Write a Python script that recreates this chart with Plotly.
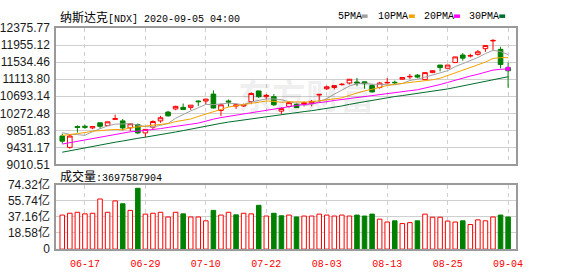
import plotly.graph_objects as go
import pandas as pd

# ---------------- data ----------------
dates = ["06-12", "06-15", "06-16", "06-17", "06-18", "06-19", "06-22", "06-23", "06-24", "06-25",
         "06-26", "06-29", "06-30", "07-01", "07-02", "07-06", "07-07", "07-08", "07-09", "07-10",
         "07-13", "07-14", "07-15", "07-16", "07-17", "07-20", "07-21", "07-22", "07-23", "07-24",
         "07-27", "07-28", "07-29", "07-30", "07-31", "08-03", "08-04", "08-05", "08-06", "08-07",
         "08-10", "08-11", "08-12", "08-13", "08-14", "08-17", "08-18", "08-19", "08-20", "08-21",
         "08-24", "08-25", "08-26", "08-27", "08-28", "08-31", "09-01", "09-02", "09-03", "09-04"]

opens = [9711.5, 9431.1, 9945.2, 9952.2, 9912.5, 10038.7, 9968.6, 10122.8, 10085.5, 9912.5,
         9992.0, 9788.7, 9928.9, 10085.5, 10302.8, 10379.9, 10419.6, 10419.6, 10576.2, 10576.2,
         10746.8, 10342.6, 10576.2, 10450.0, 10454.7, 10559.9, 10824.0, 10683.7, 10683.7, 10326.2,
         10443.0, 10489.8, 10489.8, 10520.1, 10723.5, 10880.0, 10910.4, 10980.5, 11020.3, 11043.6,
         11050.6, 10957.2, 10910.4, 11022.6, 11039.0, 11113.7, 11172.2, 11214.2, 11104.4, 11277.3,
         11464.3, 11384.8, 11525.1, 11712.0, 11686.3, 11728.4, 11868.6, 12060.2, 11852.2, 11401.2]

highs = [9772.3, 9741.9, 9975.6, 9992.0, 9947.0, 10040.0, 10064.0, 10239.7, 10132.2, 10017.0,
         10022.4, 9877.0, 10099.5, 10209.3, 10333.2, 10459.4, 10513.1, 10475.0, 10590.3, 10637.0,
         10840.3, 10513.1, 10613.6, 10513.1, 10513.1, 10793.6, 10826.0, 10746.8, 10746.8, 10419.6,
         10566.9, 10536.5, 10566.9, 10599.6, 10742.0, 10957.2, 10959.0, 11020.3, 11116.0, 11144.1,
         11053.0, 11003.9, 11050.6, 11144.1, 11081.0, 11158.0, 11244.6, 11244.6, 11280.0, 11338.1,
         11467.0, 11467.0, 11668.0, 11758.8, 11744.7, 11838.2, 11948.0, 12102.3, 11915.3, 11525.1]

lows = [9524.6, 9398.4, 9795.7, 9889.2, 9882.1, 9889.2, 9966.0, 10121.0, 9851.8, 9835.4,
        9758.3, 9678.8, 9882.1, 10038.7, 10193.0, 10349.5, 10364.0, 10356.5, 10450.0, 10496.8,
        10389.3, 10202.3, 10436.0, 10379.9, 10431.3, 10496.8, 10653.3, 10606.6, 10450.0, 10249.0,
        10412.6, 10410.0, 10443.0, 10443.0, 10566.9, 10847.3, 10863.7, 10957.2, 10987.5, 10940.8,
        10880.0, 10786.6, 10880.0, 11003.9, 10987.5, 11111.0, 11120.7, 11137.1, 11101.0, 11268.0,
        11307.7, 11382.0, 11522.0, 11571.8, 11651.2, 11698.0, 11791.5, 11838.2, 11384.8, 10903.4]

closes = [9585.3, 9711.5, 9921.9, 9928.9, 9945.2, 9952.2, 10062.1, 10139.2, 9912.5, 10015.3,
          9788.7, 9875.1, 10069.1, 10162.6, 10209.3, 10443.0, 10365.9, 10473.4, 10559.9, 10623.0,
          10403.3, 10482.7, 10552.9, 10482.7, 10489.8, 10763.2, 10683.7, 10716.4, 10482.7, 10389.3,
          10536.5, 10412.6, 10536.5, 10566.9, 10739.8, 10926.8, 10957.2, 10987.5, 11113.7, 11020.3,
          11003.9, 10800.6, 11020.3, 11034.3, 11027.3, 11155.8, 11183.8, 11167.5, 11277.3, 11324.1,
          11401.2, 11464.3, 11665.3, 11634.9, 11698.0, 11791.5, 11945.7, 12071.9, 11478.3, 11324.1]

# shares traded
volumes = [3.92e9, 4.13e9, 4.24e9, 4.06e9, 4.13e9, 5.77e9, 4.24e9, 5.55e9, 5.22e9, 4.46e9,
           7.00e9, 4.03e9, 4.13e9, 4.24e9, 3.70e9, 4.24e9, 4.06e9, 3.70e9, 3.70e9, 3.26e9,
           4.46e9, 3.92e9, 4.24e9, 3.95e9, 4.13e9, 4.06e9, 5.04e9, 3.81e9, 4.13e9, 3.84e9,
           3.92e9, 3.70e9, 3.81e9, 3.81e9, 4.03e9, 3.92e9, 3.81e9, 3.92e9, 3.81e9, 3.92e9,
           3.81e9, 4.03e9, 3.45e9, 3.12e9, 3.26e9, 2.94e9, 3.05e9, 3.26e9, 4.03e9, 3.67e9,
           3.67e9, 3.23e9, 3.12e9, 3.26e9, 2.83e9, 3.37e9, 3.26e9, 3.70e9, 3.92e9, 3697587904]

# closes before the visible window (estimated so the MA lines start where the reference shows them)
pre_window_closes = [8605, 8710, 8810, 8854, 8979, 9121, 9192, 9002, 8863, 8943,
                     9014, 9235, 9185, 9375, 9284, 9325, 9340, 9412, 9368, 9490,
                     9552, 9608, 9683, 9616, 9814, 9924, 9953, 10020, 9493]

ma_periods = [5, 10, 20, 30]
ma_names = ["5PMA", "10PMA", "20PMA", "30PMA"]
x_tick_labels = ["06-17", "06-29", "07-10", "07-22", "08-03", "08-13", "08-25", "09-04"]
price_tick_labels = ["9010.51", "9431.17", "9851.83", "10272.48", "10693.14",
                     "11113.80", "11534.46", "11955.12", "12375.77"]
vol_tick_labels = ["0", "18.58亿", "37.16亿", "55.74亿", "74.32亿"]
title_name = "纳斯达克"
title_rest = "[NDX] 2020-09-05 04:00"

# ---------------- styles ----------------
W, H = 578, 276
RED = "#ff0000"
GREEN = "#008000"
MA_COLORS = ["#a0a0a0", "#f5a300", "#ff00ff", "#006d2c"]
FRAME = "#9a9a9a"
GRID = "#cfcfcf"
MONO = "Liberation Mono, Noto Sans CJK SC, monospace"
SANS = "Liberation Sans, Arial, sans-serif"
CJK = "Noto Sans CJK SC"


def pxx(x):
    return x / W


def pxy(y):
    return 1 - y / H


n = len(dates)
xi = list(range(n))

all_closes = pd.Series(pre_window_closes + closes)
mas = [all_closes.rolling(p).mean().iloc[len(pre_window_closes):].tolist() for p in ma_periods]

prev_closes = [pre_window_closes[-1]] + closes[:-1]
vol_up = [c >= pc for c, pc in zip(closes, prev_closes)]

fig = go.Figure()

fig.add_trace(go.Candlestick(
    x=xi, open=opens, high=highs, low=lows, close=closes,
    increasing=dict(line=dict(color=RED, width=1), fillcolor="white"),
    decreasing=dict(line=dict(color=GREEN, width=1), fillcolor=GREEN),
    whiskerwidth=0, xaxis="x", yaxis="y", showlegend=False, hoverinfo="skip"))

for ma, col in zip(mas, MA_COLORS):
    fig.add_trace(go.Scatter(x=xi, y=ma, mode="lines", line=dict(color=col, width=1),
                             xaxis="x", yaxis="y", showlegend=False, hoverinfo="skip"))

fig.add_trace(go.Scatter(x=[xi[-1]], y=[mas[2][-1]], mode="markers",
                         marker=dict(color=MA_COLORS[2], size=4, symbol="square"),
                         xaxis="x", yaxis="y", showlegend=False, hoverinfo="skip"))

fig.add_trace(go.Bar(
    x=xi, y=volumes, width=0.6,
    marker=dict(color=["white" if u else GREEN for u in vol_up],
                line=dict(color=[RED if u else GREEN for u in vol_up], width=1)),
    xaxis="x2", yaxis="y2", showlegend=False, hoverinfo="skip"))

x_range = [-0.82, n - 1 + 1.04]
x_tickvals = [dates.index(t) for t in x_tick_labels]
xdom = [pxx(54), pxx(522)]

common_x = dict(domain=xdom, range=x_range, tickvals=x_tickvals, showgrid=True,
                gridcolor=GRID, griddash="4px,4px", gridwidth=1, zeroline=False,
                showline=True, mirror=True, linecolor=FRAME, linewidth=1.5, ticks="",
                fixedrange=True)

fig.update_layout(
    width=W, height=H, autosize=False,
    margin=dict(l=0, r=0, t=0, b=0),
    paper_bgcolor="white", plot_bgcolor="white",
    boxgap=0.39, boxgroupgap=0,
    bargap=0.4,
    xaxis=dict(**common_x, anchor="y", showticklabels=False, rangeslider=dict(visible=False)),
    xaxis2=dict(**common_x, anchor="y2", showticklabels=True, ticktext=x_tick_labels,
                tickfont=dict(family=MONO, size=10, color=RED), ticklabelstandoff=4),
    yaxis=dict(domain=[pxy(165.4), pxy(21.3)],
               range=[float(price_tick_labels[0]), float(price_tick_labels[-1])],
               tickvals=[float(t) for t in price_tick_labels], ticktext=price_tick_labels,
               tickfont=dict(family=SANS, size=12, color="#1a1a1a"),
               showgrid=True, gridcolor=GRID, gridwidth=1, zeroline=False,
               showline=True, mirror=True, linecolor=FRAME, linewidth=1.5, ticks="",
               ticklabelstandoff=2, fixedrange=True),
    yaxis2=dict(domain=[pxy(255), pxy(186.7)],
                range=[0, float(vol_tick_labels[-1].rstrip("亿")) * 1e8],
                tickvals=[float(t.rstrip("亿")) * 1e8 for t in vol_tick_labels],
                ticktext=vol_tick_labels,
                tickfont=dict(family=SANS + ", " + CJK, size=12, color="#1a1a1a"),
                showgrid=True, gridcolor=GRID, gridwidth=1, zeroline=False,
                showline=True, mirror=True, linecolor=FRAME, linewidth=1.5, ticks="",
                ticklabelstandoff=2, fixedrange=True),
)

annotations = []
shapes = []

# title
annotations.append(dict(
    x=pxx(56), y=pxy(8.5), xref="paper", yref="paper", xanchor="left", yanchor="middle",
    showarrow=False,
    text='<span style="font-family:Noto Sans CJK SC;font-size:12px">' + title_name + '</span>' + title_rest,
    font=dict(family=MONO, size=10, color="black")))

# legend
legend_text_x = [339, 380, 426, 472]
legend_box_x = [365, 413, 459, 505]
for name, col, tx, bx in zip(ma_names, MA_COLORS, legend_text_x, legend_box_x):
    annotations.append(dict(x=pxx(tx), y=pxy(8.5), xref="paper", yref="paper",
                            xanchor="left", yanchor="middle", showarrow=False, text=name,
                            font=dict(family=MONO, size=10, color="black")))
    shapes.append(dict(type="rect", xref="paper", yref="paper",
                       x0=pxx(bx), x1=pxx(bx + 6), y0=pxy(10.5), y1=pxy(6.8),
                       fillcolor=col, line=dict(width=0)))

# volume label
annotations.append(dict(
    x=pxx(56), y=pxy(177.5), xref="paper", yref="paper", xanchor="left", yanchor="middle",
    showarrow=False,
    text='<span style="font-family:Noto Sans CJK SC;font-size:12px">成交量</span>:' + str(int(volumes[-1])),
    font=dict(family=MONO, size=10, color="black")))

# watermark
annotations.append(dict(
    x=pxx(308), y=pxy(92), xref="paper", yref="paper", xanchor="center", yanchor="middle",
    showarrow=False, text="<b>东方财富</b>",
    font=dict(family=CJK, size=34, color="rgba(0,0,0,0.07)")))

fig.update_layout(annotations=annotations, shapes=shapes)

fig.write_html("out.html")
